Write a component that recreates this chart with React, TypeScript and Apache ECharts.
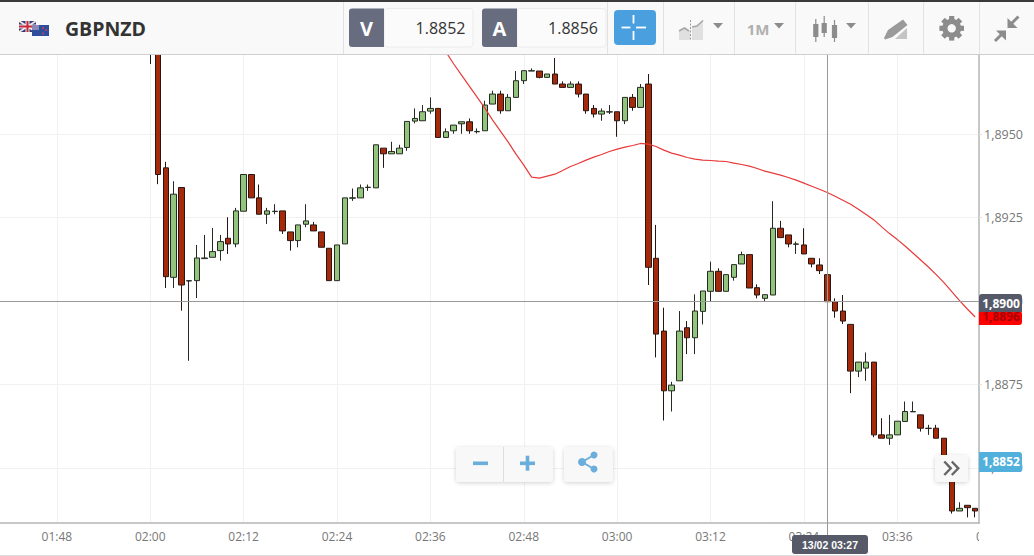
import React, { useEffect, useRef } from "react";
import * as echarts from "echarts";

const firstMinute = 100; // 01:40
const lastMinute = 226; // 03:46
const firstCandleIndex = 20;
const firstLineIndex = 57;

const priceTicks = [1.885, 1.8875, 1.89, 1.8925, 1.895];
const yMin = 1.88335;
const yMax = 1.8974;
const crossPrice = 1.89;
const crossTime = "03:27";

const opens = [
  1.8986, 1.8985, 1.89399, 1.89071, 1.8934, 1.8906, 1.89061, 1.89127, 1.89131, 1.89151,
  1.89188, 1.89171, 1.89269, 1.89379, 1.89309, 1.8926, 1.89268, 1.8927, 1.89207, 1.89181,
  1.8923, 1.89228, 1.89207, 1.89158, 1.89061, 1.89171, 1.89308, 1.89309, 1.8934, 1.89339,
  1.89458, 1.89441, 1.89441, 1.8946, 1.89539, 1.8954, 1.89569, 1.89577, 1.8949, 1.8951,
  1.89531, 1.89537, 1.89507, 1.8951, 1.8959, 1.8962, 1.8957, 1.8961, 1.8966, 1.89689,
  1.89689, 1.8967, 1.8968, 1.8965, 1.8964, 1.8965, 1.8962, 1.89577, 1.8956, 1.89566,
  1.89567, 1.8954, 1.8961, 1.8958, 1.8965, 1.89128, 1.8891, 1.88731, 1.88761, 1.8892,
  1.8889, 1.88969, 1.89029, 1.89089, 1.89029, 1.89071, 1.89111, 1.89139, 1.8904, 1.89008,
  1.89018, 1.89218, 1.89198, 1.8917, 1.89168, 1.89128, 1.89108, 1.89079, 1.88998, 1.8897,
  1.8893, 1.8879, 1.88799, 1.88817, 1.88599, 1.88589, 1.88599, 1.88639, 1.88668, 1.88659,
  1.88618, 1.88619, 1.88589, 1.88518, 1.88371, 1.88388, 1.88379,
];
const closes = [
  1.8982, 1.89379, 1.89073, 1.8932, 1.89048, 1.89061, 1.89129, 1.89129, 1.89148, 1.89178,
  1.89171, 1.8927, 1.89379, 1.89309, 1.8926, 1.8927, 1.89269, 1.8921, 1.89181, 1.89228,
  1.8924, 1.8921, 1.89161, 1.89061, 1.89168, 1.89309, 1.89309, 1.89339, 1.89341, 1.89468,
  1.89441, 1.89448, 1.89458, 1.89538, 1.89547, 1.89567, 1.89577, 1.8949, 1.89507, 1.89527,
  1.89537, 1.8951, 1.89508, 1.89587, 1.8962, 1.8957, 1.8961, 1.8966, 1.8969, 1.8969,
  1.8967, 1.8968, 1.8965, 1.8964, 1.8965, 1.8962, 1.8957, 1.8956, 1.89569, 1.89567,
  1.8954, 1.8961, 1.8958, 1.8964, 1.89101, 1.88901, 1.88731, 1.88748, 1.8891, 1.8889,
  1.8897, 1.8903, 1.89089, 1.89029, 1.89079, 1.89109, 1.89139, 1.89039, 1.89018, 1.89019,
  1.89218, 1.8919, 1.89171, 1.89171, 1.89141, 1.89111, 1.89091, 1.88998, 1.8897, 1.8894,
  1.8879, 1.88817, 1.88817, 1.88599, 1.88589, 1.88599, 1.8864, 1.88669, 1.88669, 1.88619,
  1.88619, 1.88589, 1.88518, 1.88371, 1.88379, 1.88381, 1.88371,
];
const lows = [
  1.8971, 1.8935, 1.89039, 1.89039, 1.88971, 1.88821, 1.89009, 1.89127, 1.89131, 1.89121,
  1.89141, 1.89161, 1.89269, 1.89309, 1.8926, 1.89231, 1.8926, 1.89201, 1.89151, 1.89161,
  1.89221, 1.8921, 1.89161, 1.89061, 1.89061, 1.89171, 1.893, 1.89309, 1.8933, 1.89339,
  1.89399, 1.89441, 1.89441, 1.8945, 1.89532, 1.8954, 1.89561, 1.8949, 1.8949, 1.89501,
  1.89501, 1.89501, 1.89502, 1.8951, 1.8959, 1.89561, 1.8957, 1.8961, 1.8965, 1.89689,
  1.89667, 1.8967, 1.8965, 1.8964, 1.8964, 1.8961, 1.89561, 1.8955, 1.8954, 1.8956,
  1.89492, 1.8953, 1.8957, 1.8958, 1.89048, 1.88831, 1.88642, 1.88669, 1.88761, 1.88841,
  1.88841, 1.8893, 1.88999, 1.89029, 1.89029, 1.89061, 1.89111, 1.89039, 1.89008, 1.88999,
  1.89018, 1.8919, 1.89161, 1.89141, 1.89141, 1.89101, 1.89081, 1.88998, 1.8895, 1.88931,
  1.88724, 1.88772, 1.88761, 1.88592, 1.88589, 1.88569, 1.88599, 1.88639, 1.88668, 1.88609,
  1.88599, 1.88589, 1.88518, 1.88363, 1.88371, 1.88352, 1.88352,
];
const highs = [
  1.899, 1.8985, 1.89417, 1.89359, 1.8934, 1.89061, 1.89168, 1.89198, 1.89219, 1.89198,
  1.89251, 1.89279, 1.89379, 1.89379, 1.89349, 1.89279, 1.8929, 1.8927, 1.89207, 1.89228,
  1.8929, 1.89237, 1.89207, 1.89158, 1.89168, 1.89309, 1.89337, 1.89349, 1.89349, 1.89468,
  1.89458, 1.89477, 1.89468, 1.89538, 1.89577, 1.89587, 1.8961, 1.89577, 1.89517, 1.89527,
  1.89537, 1.89547, 1.89517, 1.896, 1.8963, 1.8963, 1.8962, 1.89689, 1.8969, 1.89697,
  1.89689, 1.8968, 1.89728, 1.89658, 1.89658, 1.89658, 1.8962, 1.89587, 1.89577, 1.89587,
  1.89567, 1.8961, 1.8962, 1.8965, 1.8968, 1.89228, 1.8898, 1.88758, 1.8897, 1.8894,
  1.8902, 1.8903, 1.89118, 1.89098, 1.89079, 1.89109, 1.89148, 1.89139, 1.8905, 1.89019,
  1.89299, 1.8924, 1.89198, 1.89178, 1.89218, 1.89128, 1.89128, 1.89088, 1.89008, 1.89018,
  1.8893, 1.88817, 1.88846, 1.88817, 1.88649, 1.88659, 1.8864, 1.88699, 1.88699, 1.88659,
  1.88629, 1.88629, 1.88589, 1.88518, 1.88397, 1.88388, 1.88379,
];
const averageLine = [
  1.89778, 1.89746, 1.8971, 1.89677, 1.89644, 1.89611, 1.89578, 1.89542, 1.89509, 1.89476,
  1.8944, 1.89407, 1.89371, 1.89368, 1.89374, 1.8938, 1.89391, 1.89403, 1.89412, 1.89422,
  1.89431, 1.89439, 1.89448, 1.89455, 1.89461, 1.89466, 1.89472, 1.8947, 1.89463, 1.89452,
  1.89443, 1.89437, 1.8943, 1.89425, 1.89422, 1.89421, 1.89419, 1.89418, 1.89413, 1.89409,
  1.89404, 1.89397, 1.89389, 1.89383, 1.89377, 1.8937, 1.89362, 1.89353, 1.89344, 1.89335,
  1.89325, 1.89314, 1.89302, 1.8929, 1.89275, 1.89259, 1.89243, 1.89222, 1.89202, 1.89184,
  1.89165, 1.89144, 1.89123, 1.89102, 1.89079, 1.89055, 1.89028, 1.89001, 1.88976, 1.88952,
];

const pad = (n: number) => String(n).padStart(2, "0");
const categories: string[] = [];
for (let m = firstMinute; m <= lastMinute; m++) categories.push(`${pad(Math.floor(m / 60))}:${pad(m % 60)}`);

const candleData = categories.map((_, i) => {
  const k = i - firstCandleIndex;
  return k < 0 ? ["-", "-", "-", "-"] : [opens[k], closes[k], lows[k], highs[k]];
});
const lineData = categories.map((_, i) => {
  const k = i - firstLineIndex;
  return k < 0 ? "-" : averageLine[k];
});

const FONT = '"Open Sans", sans-serif';
const Z = { z: 100, silent: true };
const rect = (x: number, y: number, width: number, height: number, fill: string, r: any = 0, extra: any = {}) => ({
  type: "rect", ...Z, shape: { x, y, width, height, r }, style: { fill, ...extra },
});
const text = (x: number, y: number, t: string, font: string, fill: string, align = "center") => ({
  type: "text", ...Z, x, y, style: { text: t, font, fill, textAlign: align, textVerticalAlign: "middle" },
});
const poly = (points: number[][], fill: string) => ({ type: "polygon", ...Z, shape: { points }, style: { fill } });
const seg = (x1: number, y1: number, x2: number, y2: number, stroke: string, lineWidth = 1) => ({
  type: "line", ...Z, shape: { x1, y1, x2, y2 }, style: { stroke, lineWidth },
});
const circ = (cx: number, cy: number, r: number, fill: string) => ({ type: "circle", ...Z, shape: { cx, cy, r }, style: { fill } });
const chevron = (x: number, stroke: string) => ({
  type: "polyline", ...Z,
  shape: { points: [[x, 461.5], [x + 6.5, 468.3], [x, 475]] },
  style: { stroke, lineWidth: 2.4, fill: "none" },
});

const ICON = "#8c8c8c";
const BLUE = "#6aaedb";
const shadow = { shadowBlur: 4, shadowColor: "rgba(0,0,0,0.18)", shadowOffsetY: 1 };

const gear = () => {
  const teeth = [0, 1, 2, 3, 4, 5, 6, 7].map((i) => ({
    type: "rect", ...Z, x: 951.7, y: 28.3, rotation: (i * Math.PI) / 4,
    shape: { x: -2.6, y: -12.3, width: 5.2, height: 5 }, style: { fill: ICON },
  }));
  return [
    ...teeth,
    { type: "ring", ...Z, shape: { cx: 951.7, cy: 28.3, r: 9.5, r0: 4.2 }, style: { fill: ICON } },
  ];
};

const graphics: any[] = [
  // header
  rect(0, 0, 1034, 54, "#f9f9f9"),
  rect(0, 0, 1034, 2, "#3a3a3a"),
  seg(0, 54.5, 1034, 54.5, "#cfcfcf"),
  ...[343, 607, 663, 734, 795, 868, 923, 979].map((x) => seg(x + 0.5, 2, x + 0.5, 54, "#e2e2e2")),
  // flags
  rect(19, 21, 17, 11, "#2f3b78"),
  seg(19, 21, 36, 32, "#f2e6e6", 2),
  seg(36, 21, 19, 32, "#f2e6e6", 2),
  rect(25.5, 21, 4, 11, "#f0e8e8"),
  rect(19, 24.5, 17, 4, "#f0e8e8"),
  rect(26.5, 21, 2, 11, "#c8283c"),
  rect(19, 25.5, 17, 2, "#c8283c"),
  rect(32, 25, 17, 11, "#2e4d9b"),
  rect(32, 25, 7, 5, "#8a88b8"),
  circ(43, 28, 0.9, "#d8434f"),
  circ(46, 30, 0.9, "#d8434f"),
  circ(43, 33.5, 0.9, "#d8434f"),
  text(65, 28, "GBPNZD", `bold 19.5px ${FONT}`, "#333333", "left"),
  // bid / ask
  rect(384, 8.5, 89, 38.5, "#fbfbfb", 3, { stroke: "#ececec" }),
  rect(349, 8.5, 35, 38.5, "#676c7e", [3, 0, 0, 3]),
  text(366.5, 28, "V", `bold 20px ${FONT}`, "#ffffff"),
  text(465.5, 27.5, "1.8852", `16px ${FONT}`, "#333333", "right"),
  rect(517, 8.5, 89, 38.5, "#fbfbfb", 3, { stroke: "#ececec" }),
  rect(482, 8.5, 35, 38.5, "#676c7e", [3, 0, 0, 3]),
  text(499.5, 28, "A", `bold 20px ${FONT}`, "#ffffff"),
  text(598, 27.5, "1.8856", `16px ${FONT}`, "#333333", "right"),
  // crosshair button
  rect(614, 10, 42, 35, "#4a9fdf", 4),
  rect(621.5, 26.6, 9, 1.8, "#ffffff"),
  rect(636, 26.6, 10, 1.8, "#ffffff"),
  rect(632.6, 15, 1.8, 8.5, "#ffffff"),
  rect(632.6, 31, 1.8, 9, "#ffffff"),
  // chart type icon
  poly([[679, 40], [679, 30], [684.5, 27], [690, 31], [690, 40]], "#e0e0e0"),
  poly([[692, 40], [692, 27], [697, 25], [703, 20], [703, 40]], "#e0e0e0"),
  { type: "polyline", ...Z, shape: { points: [[679, 31], [684.5, 28], [689, 31]] }, style: { stroke: "#a8a8a8", lineWidth: 1.6, fill: "none" } },
  { type: "polyline", ...Z, shape: { points: [[692, 27], [697, 26], [703, 20.5]] }, style: { stroke: "#a8a8a8", lineWidth: 1.6, fill: "none" } },
  { type: "line", ...Z, shape: { x1: 690.5, y1: 20, x2: 690.5, y2: 40 }, style: { stroke: "#999999", lineDash: [2, 1.5] } },
  poly([[713, 23], [723, 23], [718, 28.5]], ICON),
  // timeframe
  text(758, 29, "1M", `bold 15px ${FONT}`, "#b0b0b0"),
  poly([[774, 23], [784, 23], [779, 28.5]], ICON),
  // candlestick icon
  rect(815.2, 19, 1.2, 23, ICON),
  rect(813.2, 24, 5.2, 13, ICON),
  rect(823.6, 16, 1.2, 21, ICON),
  rect(821.6, 23, 5.2, 10, ICON),
  rect(833.9, 20, 1.2, 22, ICON),
  rect(831.9, 25, 5.2, 13, ICON),
  poly([[846, 23], [856, 23], [851, 28.5]], ICON),
  // pencil
  poly([[907, 28], [907, 39], [895, 39]], "#c4c4c4"),
  poly([[888, 30], [903, 19.5], [907.5, 25], [892.5, 37], [885, 39.5], [884, 38]], "#9a9a9a"),
  // gear + compress
  ...gear(),
  poly([[1007.5, 18], [1007.5, 28], [1017.5, 28]], ICON),
  seg(1011, 24, 1018.5, 16.5, ICON, 3),
  poly([[996, 30.5], [1006, 30.5], [1006, 40.5]], ICON),
  seg(1002, 34, 995, 41, ICON, 3),
  // zoom & share buttons
  rect(456, 447, 97, 35, "#f8f8f8", 4, shadow),
  seg(503.5, 447, 503.5, 482, "#dddddd"),
  rect(473, 461.5, 15, 3.6, BLUE),
  rect(520, 461.5, 15, 3.6, BLUE),
  rect(525.7, 455.7, 3.6, 15, BLUE),
  rect(564, 447, 49, 35, "#f8f8f8", 4, shadow),
  seg(582, 462, 594, 455, BLUE, 2),
  seg(582, 462, 594, 469, BLUE, 2),
  circ(582, 462, 4, BLUE),
  circ(594, 455, 3.5, BLUE),
  circ(594, 469, 3.5, BLUE),
  // pager
  rect(935, 455, 33, 27, "#f8f8f8", 4, shadow),
  chevron(944.3, "#666666"),
  chevron(951.8, "#666666"),
  // right hand badges
  rect(979, 311, 43, 14, "#ff0000", [0, 3, 3, 0]),
  text(1001, 316, "1,8896", `bold 12px ${FONT}`, "#a80000"),
  rect(979, 294, 43, 18, "#565a68", [3, 3, 0, 0]),
  text(1001, 303, "1,8900", `bold 12px ${FONT}`, "#ffffff"),
  rect(979, 452, 43, 20, "#52b0dc", [0, 3, 3, 0]),
  text(1001, 461.5, "1,8852", `bold 12px ${FONT}`, "#ffffff"),
  // clipped label at the right end of the time axis
  text(976, 536, "0", `12px ${FONT}`, "#777777", "left"),
  rect(979, 526, 6, 20, "#ffffff"),
  // crosshair time tag
  seg(827.5, 523, 827.5, 536, "#999999"),
  rect(792, 535, 76, 19, "#565a68", 3),
  text(830, 544.5, "13/02 03:27", `bold 10.5px "Liberation Sans", Arial, sans-serif`, "#ffffff"),
  seg(0, 555.5, 1034, 555.5, "#dddddd"),
];

export default function App() {
  const ref = useRef<HTMLDivElement>(null);
  useEffect(() => {
    const chart = echarts.init(ref.current!, undefined, { renderer: "svg" });
    chart.setOption({
      animation: false,
      backgroundColor: "#ffffff",
      grid: { left: -9.25, top: 54, width: 988.25, height: 469, outerBoundsMode: "none" },
      xAxis: {
        type: "category",
        data: categories,
        boundaryGap: true,
        axisLine: { lineStyle: { color: "#b4b4b4", width: 1.5 } },
        axisTick: { alignWithLabel: true, length: 5, interval: (i: number) => i % 12 === 8, lineStyle: { color: "#aaaaaa" } },
        axisLabel: { interval: (i: number) => i % 12 === 8, color: "#777777", fontFamily: "Open Sans", fontSize: 12, margin: 7 },
        splitLine: { show: true, alignWithLabel: true, interval: (i: number) => i % 12 === 8, lineStyle: { color: "#f1f1f1" } },
      },
      yAxis: {
        type: "value",
        position: "right",
        scale: true,
        min: yMin,
        max: yMax,
        axisLine: { show: true, lineStyle: { color: "#b4b4b4", width: 1.5 } },
        axisTick: { show: true, length: 3, customValues: priceTicks, lineStyle: { color: "#e4e4e4" } },
        axisLabel: {
          customValues: priceTicks,
          color: "#777777",
          fontFamily: "Open Sans",
          fontSize: 12.5,
          margin: 5,
          formatter: (v: number) => v.toFixed(4).replace(".", ","),
        },
        splitLine: { show: true, lineStyle: { color: "#f1f1f1" } },
      },
      series: [
        {
          type: "candlestick",
          data: candleData,
          barWidth: 6,
          itemStyle: {
            color: "#93c47d",
            color0: "#a52a0c",
            borderColor: "#262b22",
            borderColor0: "#2a1610",
            borderWidth: 1,
          },
          markLine: {
            silent: true,
            symbol: "none",
            animation: false,
            label: { show: false },
            lineStyle: { color: "#999999", width: 1, type: "solid" },
            data: [{ yAxis: crossPrice }, { xAxis: crossTime }],
          },
        },
        {
          type: "line",
          data: lineData,
          showSymbol: false,
          smooth: false,
          lineStyle: { color: "#e83a3a", width: 1.2 },
          z: 3,
        },
      ],
      graphic: graphics,
    });
    return () => chart.dispose();
  }, []);
  return <div ref={ref} style={{ position: "fixed", left: 0, top: 0, width: 1034, height: 556, background: "#fff" }} />;
}
